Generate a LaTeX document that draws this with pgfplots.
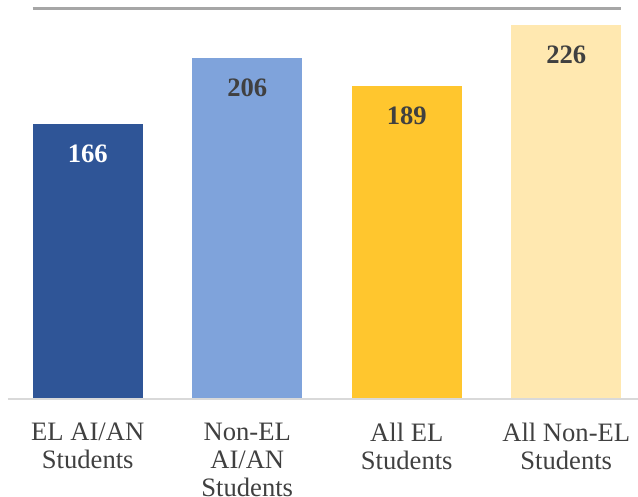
\documentclass[border=0pt]{standalone}
\usepackage{pgfplots}
\pgfplotsset{compat=1.18}
\usepackage{fontspec}
\setmainfont{Liberation Serif}
\definecolor{c1}{HTML}{2F5597}
\definecolor{c2}{HTML}{7FA3DB}
\definecolor{c3}{HTML}{FFC62E}
\definecolor{c4}{HTML}{FFE8B0}
\definecolor{txt}{HTML}{404040}
\definecolor{topclr}{HTML}{A6A6A6}
\definecolor{baseclr}{HTML}{D9D9D9}
\begin{document}
\begin{tikzpicture}
\useasboundingbox (0,0) rectangle (319pt,248.5pt);
\begin{axis}[
  at={(4pt,49pt)}, anchor=south west,
  scale only axis, width=315pt, height=195.15pt,
  xmin=-0.5, xmax=3.45, ymin=0, ymax=236,
  ybar, bar width=55pt,
  axis line style={draw=none},
  ytick=\empty,
  xtick={0,1,2,3}, major tick length=0pt,
  xticklabels={{EL AI/AN\\Students},{Non-EL\\AI/AN\\Students},{All EL\\Students},{All Non-EL\\Students}},
  xticklabel style={align=center, font=\fontsize{13.3}{14}\selectfont, text=txt, yshift=-8.5pt},
  nodes near coords,
  nodes near coords align={below},
  /pgf/number format/assume math mode=true,
  every node near coord/.append style={anchor=north, inner sep=0pt, yshift=-10pt, font=\bfseries\fontsize{13.3}{14}\selectfont, text=txt},
  clip=false,
]
\addplot[fill=c1, draw=none, bar shift=0pt, every node near coord/.append style={text=white}] coordinates {(0,166)};
\addplot[fill=c2, draw=none, bar shift=0pt] coordinates {(1,206)};
\addplot[fill=c3, draw=none, bar shift=0pt] coordinates {(2,189)};
\addplot[fill=c4, draw=none, bar shift=0pt] coordinates {(3,226)};
\draw[baseclr, line width=1pt] (axis cs:-0.5,0) -- (axis cs:3.45,0);
\draw[topclr, line width=1.2pt] (axis cs:-0.345,236) -- (axis cs:3.345,236);
\end{axis}
\end{tikzpicture}
\end{document}
